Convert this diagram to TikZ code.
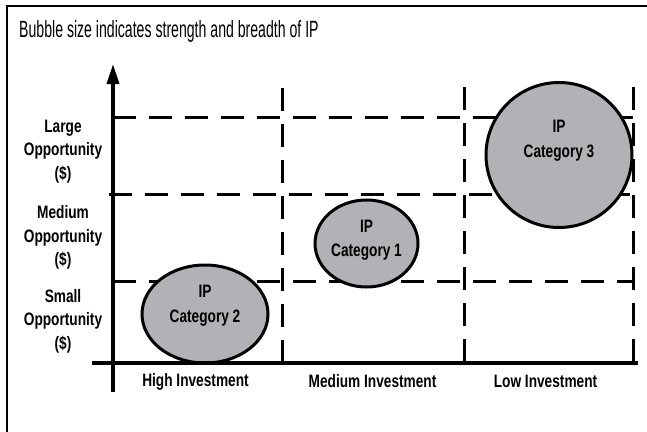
\documentclass[tikz,border=0pt]{standalone}
\usepackage{fontspec}
\usetikzlibrary{arrows.meta,shapes.geometric}
\newfontfamily\titlefont{Liberation Sans}[FakeStretch=0.6]
\newfontfamily\labfont{Liberation Sans}[FakeStretch=0.76]
\definecolor{bubblegray}{HTML}{B1B2B5}
\begin{document}
\begin{tikzpicture}[x=1pt,y=-1pt,
  frameline/.style={line width=2.6pt},
  axisline/.style={line width=3.4pt},
  gridline/.style={line width=3pt, dash pattern=on 23pt off 13pt},
  bubble/.style={ellipse, draw, line width=3pt, fill=bubblegray, inner sep=0pt},
  lab/.style={align=center, font={\labfont\bfseries\fontsize{18}{23.5}\selectfont}, inner sep=0pt},
  bubtext/.style={align=center, font={\labfont\bfseries\fontsize{18}{24.5}\selectfont}, inner sep=0pt}]
\useasboundingbox (0,0) rectangle (647,431);
\clip (0,0) rectangle (647,431);

% outer frame (runs off the right and bottom edges)
\coordinate (frameTL) at (7,6);
\coordinate (frameTR) at (660,6);
\coordinate (frameBL) at (7,440);
\draw[frameline] (frameBL) -- (frameTL) -- (frameTR);

\node[anchor=base west, font={\titlefont\fontsize{23.5}{26}\selectfont}, inner sep=0pt]
  (title) at (19,37.5) {Bubble size indicates strength and breadth of IP};

% grid corners
\coordinate (h1a) at (113,117); \coordinate (h1b) at (633,117);
\coordinate (h2a) at (109,194); \coordinate (h2b) at (630,194);
\coordinate (h3a) at (113,281); \coordinate (h3b) at (633,281);
\coordinate (v1a) at (282,88);  \coordinate (v1b) at (282,363);
\coordinate (v2a) at (464,87);  \coordinate (v2b) at (464,363);
\coordinate (v3a) at (633,87);  \coordinate (v3b) at (633,363);

\draw[gridline] (h1a) -- (h1b);
\draw[gridline] (h2a) -- (h2b);
\draw[gridline] (h3a) -- (h3b);
\draw[gridline] (v1a) -- (v1b);
\draw[gridline] (v2a) -- (v2b);
\draw[gridline] (v3a) -- (v3b);

% bubbles
\node[bubble, minimum width=103pt, minimum height=87pt] (cat1) at (366.5,243.5) {};
\node[bubble, minimum width=126pt, minimum height=98pt] (cat2) at (205,314) {};
\node[bubble, minimum width=146pt, minimum height=145pt] (cat3) at (559,155) {};

\node[bubtext] (cat1t) at (366.5,240) {IP\\Category 1};
\node[bubtext] (cat2t) at (205,305.5) {IP\\Category 2};
\node[bubtext] (cat3t) at (559,140.5) {IP\\Category 3};

% axes
\coordinate (yaxB) at (113,392);
\coordinate (yaxT) at (113,64);
\coordinate (xaxL) at (92,363);
\coordinate (xaxR) at (638,363);
\draw[axisline] (xaxL) -- (xaxR);
\draw[axisline, -{Triangle[length=20pt,width=12pt]}] (yaxB) -- (yaxT);

% axis labels
\node[lab] (large) at (63,151.5) {Large\\Opportunity\\(\$)};
\node[lab] (medium) at (63,237.5) {Medium\\Opportunity\\(\$)};
\node[lab] (small) at (63,321) {Small\\Opportunity\\(\$)};

\node[lab] (high) at (195.5,381.5) {High Investment};
\node[lab] (med) at (372.5,381.5) {Medium Investment};
\node[lab] (low) at (545.5,381.5) {Low Investment};
\end{tikzpicture}
\end{document}
